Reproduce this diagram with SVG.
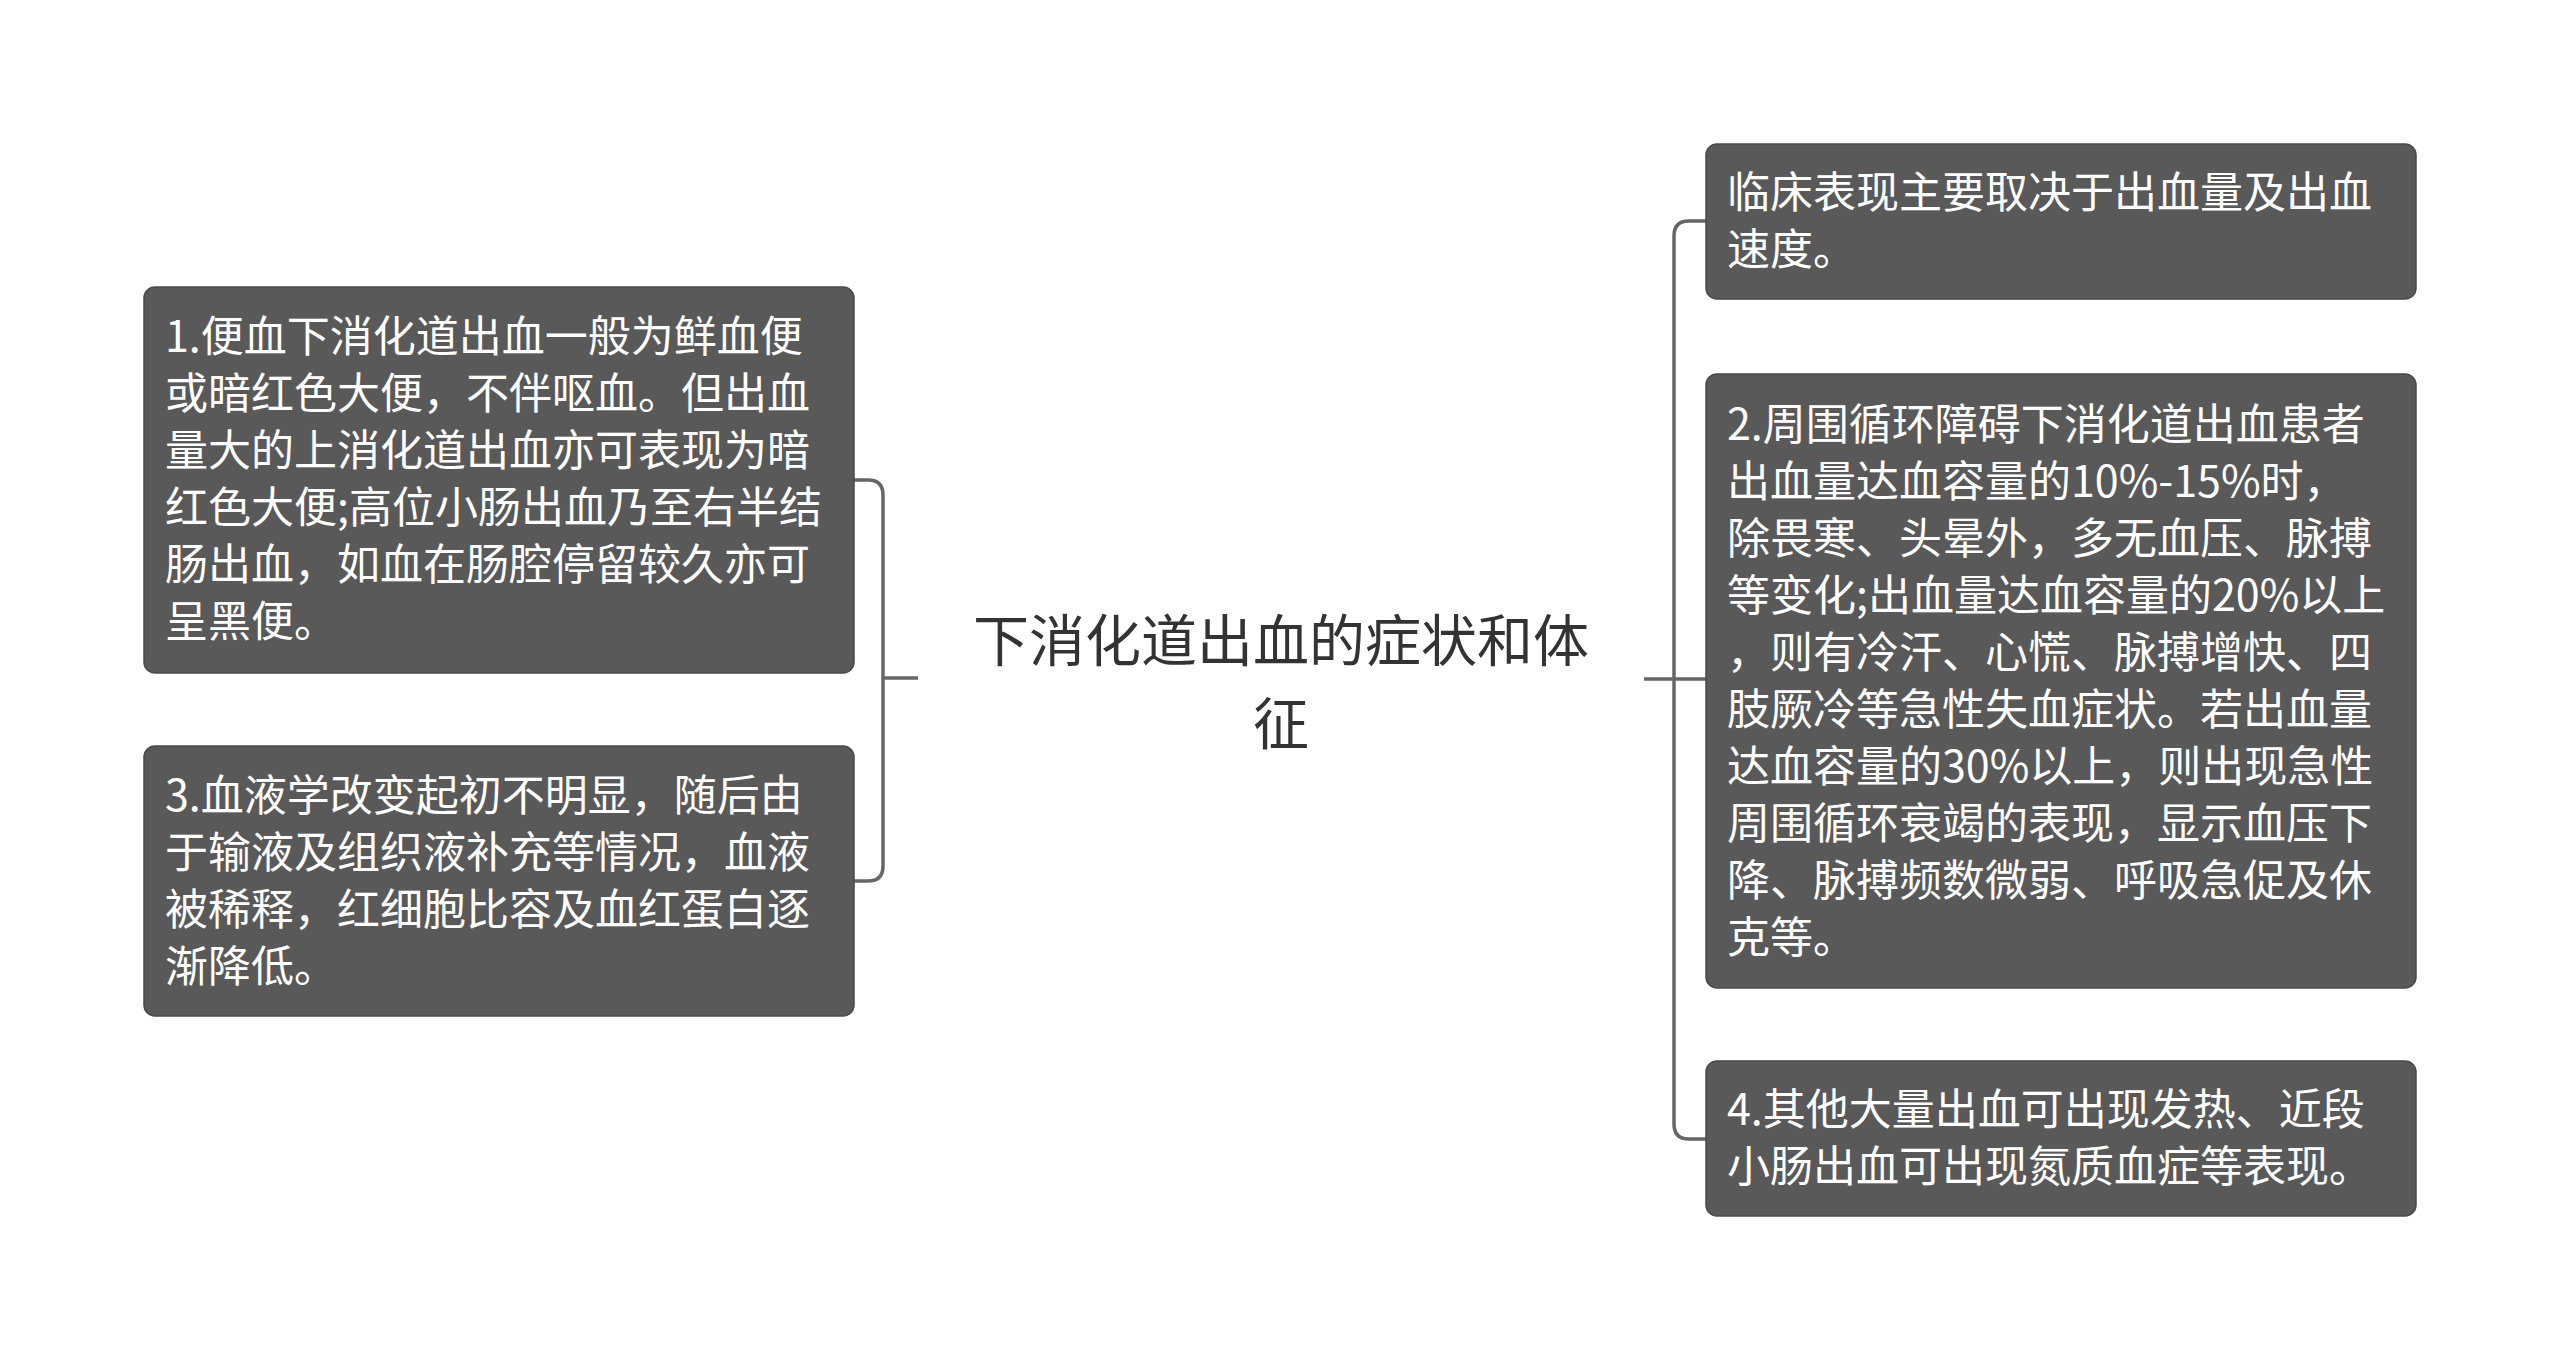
<svg xmlns="http://www.w3.org/2000/svg" width="2560" height="1361" viewBox="0 0 2560 1361">
<style>
.box{fill:#595959;stroke:#4a4a4a;stroke-width:1.5}
.nt{font-family:"Noto Sans CJK SC","Noto Sans",sans-serif;font-size:43px;fill:#ffffff}
.ct{font-family:"Noto Sans CJK SC","Noto Sans",sans-serif;font-size:56px;fill:#333333;text-anchor:middle}
.ln{fill:none;stroke:#666666;stroke-width:3.5;stroke-linecap:butt}
</style>
<rect width="2560" height="1361" fill="#ffffff"/>
<g id="connectors">
<path class="ln" d="M854,480 H868 Q883,480 883,495 V866 Q883,881 868,881 H854"/>
<path class="ln" d="M883,678 H918"/>
<path class="ln" d="M1706,221 H1689 Q1674,221 1674,236 V1124 Q1674,1139 1689,1139 H1706"/>
<path class="ln" d="M1644,679 H1706"/>
</g>
<g id="center">
<text class="ct" x="1281" y="661">下消化道出血的症状和体</text>
<text class="ct" x="1281" y="744">征</text>
</g>
<g id="node1">
<rect class="box" x="144" y="287" width="710" height="386" rx="11"/>
<text class="nt" x="165" y="352">1.便血下消化道出血一般为鲜血便</text>
<text class="nt" x="165" y="409">或暗红色大便，不伴呕血。但出血</text>
<text class="nt" x="165" y="466">量大的上消化道出血亦可表现为暗</text>
<text class="nt" x="165" y="523">红色大便;高位小肠出血乃至右半结</text>
<text class="nt" x="165" y="580">肠出血，如血在肠腔停留较久亦可</text>
<text class="nt" x="165" y="637">呈黑便。</text>
</g>
<g id="node3">
<rect class="box" x="144" y="746" width="710" height="270" rx="11"/>
<text class="nt" x="165" y="811">3.血液学改变起初不明显，随后由</text>
<text class="nt" x="165" y="868">于输液及组织液补充等情况，血液</text>
<text class="nt" x="165" y="925">被稀释，红细胞比容及血红蛋白逐</text>
<text class="nt" x="165" y="982">渐降低。</text>
</g>
<g id="node0">
<rect class="box" x="1706" y="144" width="710" height="155" rx="11"/>
<text class="nt" x="1727" y="208">临床表现主要取决于出血量及出血</text>
<text class="nt" x="1727" y="265">速度。</text>
</g>
<g id="node2">
<rect class="box" x="1706" y="374" width="710" height="614" rx="11"/>
<text class="nt" x="1727" y="440">2.周围循环障碍下消化道出血患者</text>
<text class="nt" x="1727" y="497">出血量达血容量的10%-15%时，</text>
<text class="nt" x="1727" y="554">除畏寒、头晕外，多无血压、脉搏</text>
<text class="nt" x="1727" y="611">等变化;出血量达血容量的20%以上</text>
<text class="nt" x="1727" y="668">，则有冷汗、心慌、脉搏增快、四</text>
<text class="nt" x="1727" y="725">肢厥冷等急性失血症状。若出血量</text>
<text class="nt" x="1727" y="782">达血容量的30%以上，则出现急性</text>
<text class="nt" x="1727" y="839">周围循环衰竭的表现，显示血压下</text>
<text class="nt" x="1727" y="896">降、脉搏频数微弱、呼吸急促及休</text>
<text class="nt" x="1727" y="953">克等。</text>
</g>
<g id="node4">
<rect class="box" x="1706" y="1061" width="710" height="155" rx="11"/>
<text class="nt" x="1727" y="1125">4.其他大量出血可出现发热、近段</text>
<text class="nt" x="1727" y="1182">小肠出血可出现氮质血症等表现。</text>
</g>
</svg>
